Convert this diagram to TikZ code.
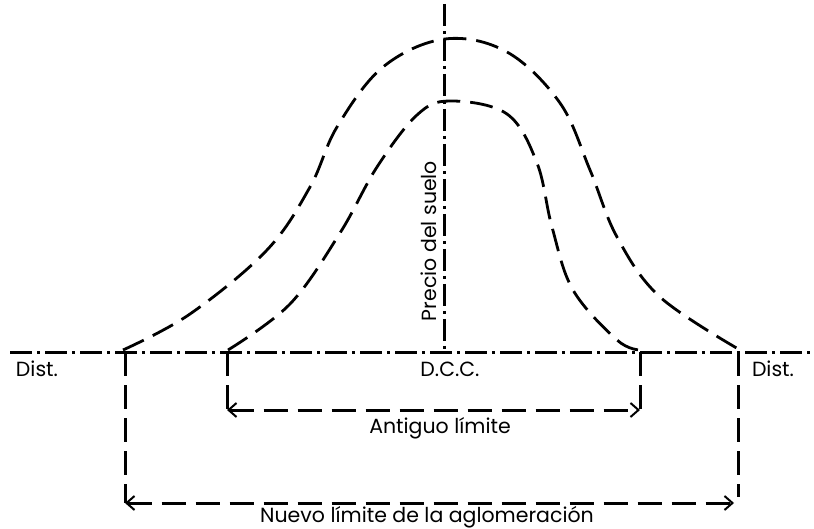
\documentclass[tikz,border=0pt]{standalone}
\usepackage{fontspec}
\setmainfont{Poppins}
\usetikzlibrary{arrows.meta}
\begin{document}
\begin{tikzpicture}[x=1pt,y=-1pt,
  axis/.style={line width=3pt,dash pattern=on 22pt off 5pt on 3pt off 5pt},
  curve/.style={line width=2.8pt,dash pattern=on 23pt off 10pt},
  vline/.style={line width=3pt,dash pattern=on 24pt off 9pt},
  tip/.tip={Straight Barb[length=8pt,width=14pt,line width=2pt]},
  dim/.style={line width=3pt,dash pattern=on 24pt off 10pt,tip-tip},
  lbl/.style={font=\fontsize{20.5}{22}\selectfont,inner sep=0pt,anchor=base}]
\useasboundingbox (0,0) rectangle (814,529);
\coordinate (axL) at (10,352);
\coordinate (axR) at (814,352);
\coordinate (axT) at (444,4);
\coordinate (axB) at (444,352);
\draw[axis] (axL) -- (axR);
\draw[axis] (axT) -- (axB);
% outer curve
\draw[curve] plot[smooth,tension=0.6] coordinates {(123,350) (190,314) (267,250) (310,187) (337,127) (383,67) (445,39) (507,52) (560,103) (590,170) (617,237) (660,297) (740,350)};
% inner curve
\draw[curve] plot[smooth,tension=0.6] coordinates {(228,350) (290,304) (340,233) (377,167) (417,115) (450,101) (507,114) (537,163) (552,227) (573,290) (617,340) (640,350)};
\coordinate (l1) at (125,352); \coordinate (l1b) at (125,503);
\coordinate (l2) at (227,352); \coordinate (l2b) at (227,410);
\coordinate (r2) at (640,352); \coordinate (r2b) at (640,410);
\coordinate (r1) at (738,352); \coordinate (r1b) at (738,497);
\coordinate (a1) at (227,410); \coordinate (a2) at (640,410);
\coordinate (b1) at (125,503); \coordinate (b2) at (734,503);
\draw[vline] (l1) -- (l1b);
\draw[vline] (l2) -- (l2b);
\draw[vline] (r2) -- (r2b);
\draw[vline] (r1) -- (r1b);
\draw[dim] (a1) -- (a2);
\draw[dim] (b1) -- (b2);
\node[lbl] (d1) at (37,377) {Dist.};
\node[lbl] (d2) at (773,377) {Dist.};
\node[lbl] (dcc) at (450,377) {D.C.C.};
\node[lbl] (ant) at (440,433) {Antiguo límite};
\node[lbl] (nue) at (427,522) {Nuevo límite de la aglomeración};
\node[lbl,rotate=90] (pre) at (436,241) {Precio del suelo};
\end{tikzpicture}
\end{document}
